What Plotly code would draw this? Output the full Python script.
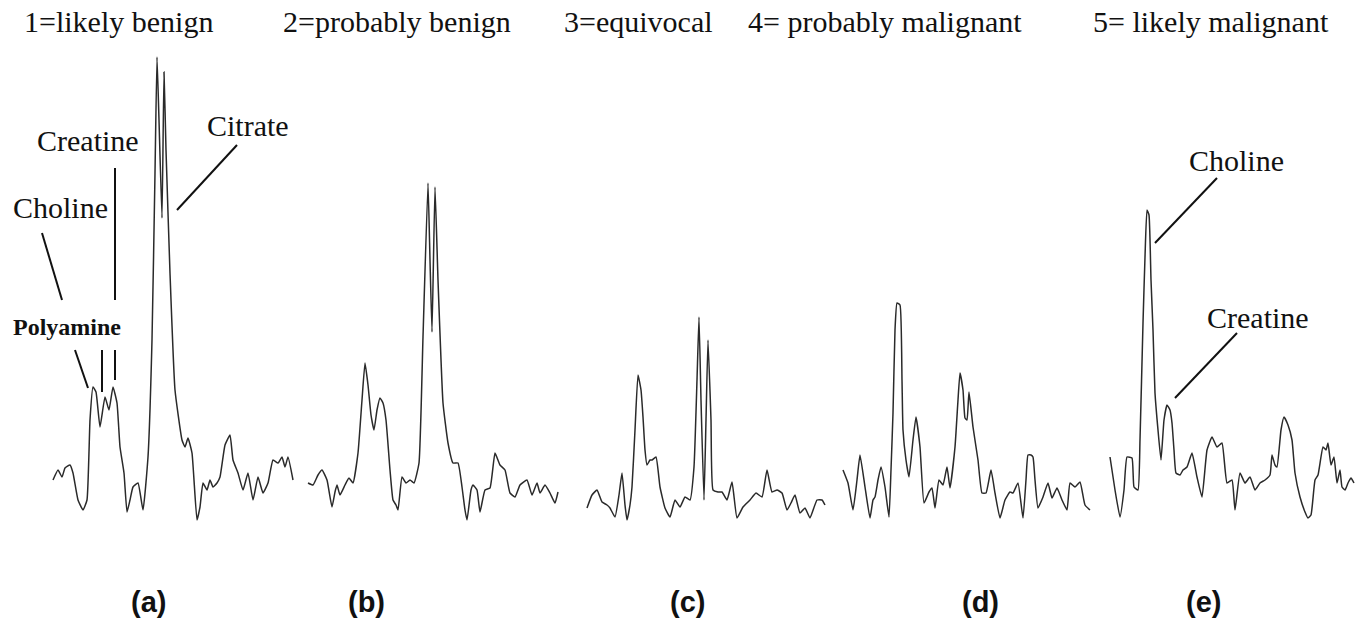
import plotly.graph_objects as go

# ---- spectra: chemical-shift position (arbitrary units) and signal intensity ----
a_pos = [53, 58, 62, 65, 70, 73, 78, 83, 87, 90, 93, 96, 100, 105, 109, 113, 117, 120,
         124, 127, 130, 133, 138, 143, 148, 152, 155, 157, 159, 162, 164, 166, 170, 175,
         182, 185, 188, 192, 197, 200, 203, 207, 210, 213, 217, 220, 225, 230, 233, 238,
         243, 248, 253, 258, 263, 268, 273, 278, 282, 285, 288, 293]
a_int = [120, 130, 123, 132, 135, 127, 100, 90, 100, 180, 213, 208, 173, 203, 190, 213, 197, 153,
         127, 88, 100, 113, 117, 90, 143, 260, 427, 543, 480, 382, 528, 450, 327, 210,
         160, 153, 162, 147, 80, 93, 117, 110, 120, 113, 117, 123, 155, 165, 140, 127,
         110, 127, 100, 123, 107, 117, 140, 137, 143, 133, 143, 120]

b_pos = [308, 313, 318, 322, 327, 332, 335, 337, 340, 345, 349, 353, 358, 362, 365, 368, 371, 374,
         377, 380, 383, 386, 390, 393, 396, 398, 402, 406, 410, 414, 419, 423, 428, 430, 432, 435,
         438, 443, 448, 453, 458, 462, 465, 467, 471, 473, 477, 480, 485, 490, 495, 500, 505, 510,
         515, 520, 527, 532, 537, 540, 545, 550, 555, 558]
b_int = [117, 115, 125, 130, 120, 93, 108, 115, 105, 115, 122, 117, 147, 200, 237, 215, 185, 170,
         190, 202, 197, 180, 130, 100, 95, 90, 123, 117, 120, 117, 137, 263, 417, 340, 268, 413,
         320, 197, 157, 137, 137, 113, 90, 80, 110, 115, 110, 88, 110, 112, 147, 135, 130, 107,
         103, 115, 120, 105, 117, 107, 115, 107, 97, 108]

c_pos = [587, 592, 597, 602, 607, 610, 615, 619, 622, 625, 627, 630, 632, 635, 638, 641, 643, 645,
         647, 650, 652, 656, 660, 665, 670, 675, 680, 685, 690, 694, 697, 699, 701, 704, 706, 708,
         711, 713, 718, 722, 727, 732, 737, 743, 750, 756, 762, 767, 772, 777, 782, 787, 791, 795,
         800, 805, 810, 817, 822, 825]
c_int = [92, 105, 110, 98, 95, 92, 83, 105, 127, 95, 80, 95, 113, 170, 225, 210, 183, 150,
         135, 140, 140, 143, 113, 92, 83, 100, 93, 103, 100, 133, 220, 283, 200, 100, 180, 260,
         180, 110, 108, 108, 100, 118, 82, 93, 100, 107, 103, 130, 108, 110, 107, 90, 97, 105,
         87, 92, 82, 100, 100, 95]

d_pos = [843, 848, 853, 857, 860, 865, 870, 873, 875, 878, 881, 885, 889, 891, 893, 895, 897, 900,
         902, 903, 906, 909, 913, 916, 920, 924, 929, 932, 935, 939, 943, 947, 950, 955, 958, 960,
         963, 965, 967, 969, 973, 978, 982, 986, 991, 995, 1000, 1005, 1010, 1013, 1018, 1023, 1026, 1028,
         1031, 1033, 1035, 1038, 1043, 1048, 1052, 1057, 1062, 1067, 1070, 1075, 1080, 1085, 1090]
d_int = [130, 117, 90, 120, 145, 113, 82, 100, 103, 120, 133, 113, 83, 130, 187, 270, 297, 295,
         220, 170, 140, 123, 160, 183, 153, 97, 108, 112, 92, 120, 115, 133, 112, 153, 200, 227,
         210, 182, 180, 208, 173, 140, 107, 107, 130, 107, 82, 100, 108, 107, 117, 82, 120, 145,
         145, 143, 120, 92, 103, 117, 102, 112, 100, 90, 117, 113, 118, 95, 90]

e_pos = [1110, 1115, 1120, 1124, 1127, 1132, 1134, 1138, 1140, 1143, 1145, 1147, 1149, 1151, 1153, 1155,
         1158, 1161, 1164, 1167, 1170, 1172, 1174, 1176, 1180, 1183, 1187, 1192, 1197, 1202, 1207, 1212,
         1217, 1222, 1227, 1232, 1235, 1240, 1245, 1250, 1255, 1260, 1265, 1270, 1272, 1275, 1277, 1281,
         1284, 1288, 1292, 1295, 1300, 1305, 1308, 1311, 1315, 1318, 1323, 1326, 1328, 1331, 1334, 1337,
         1340, 1342, 1345, 1348, 1351, 1354]
e_int = [143, 110, 83, 110, 143, 142, 113, 110, 160, 277, 343, 390, 385, 320, 270, 207,
         170, 140, 180, 195, 190, 177, 150, 127, 125, 130, 133, 147, 123, 103, 150, 163,
         153, 157, 117, 120, 90, 127, 117, 123, 110, 117, 120, 125, 145, 135, 133, 170,
         183, 175, 160, 127, 103, 88, 82, 85, 120, 125, 153, 150, 157, 135, 143, 117,
         130, 113, 110, 117, 122, 117]

scores = ["1=likely benign", "2=probably benign", "3=equivocal",
          "4= probably malignant", "5= likely malignant"]
panels = ["(a)", "(b)", "(c)", "(d)", "(e)"]

SPEC_COLOR = "#2a2a2a"
SERIF = "Liberation Serif, Times New Roman, serif"
SANS = "Liberation Sans, Arial, sans-serif"

fig = go.Figure()
for xs, ys in [(a_pos, a_int), (b_pos, b_int), (c_pos, c_int), (d_pos, d_int), (e_pos, e_int)]:
    fig.add_trace(go.Scatter(x=xs, y=ys, mode="lines",
                             line=dict(color=SPEC_COLOR, width=1.5, shape="spline", smoothing=0.4),
                             hoverinfo="skip", showlegend=False))

# score headings along the top
score_x = [118, 397, 638, 885, 1211]
for sx, txt in zip(score_x, scores):
    fig.add_annotation(x=sx, y=579, text=txt, showarrow=False,
                       font=dict(family=SERIF, size=30, color="#111"))

# panel letters along the bottom
panel_x = [148, 366, 687, 980, 1203]
for px, txt in zip(panel_x, panels):
    fig.add_annotation(x=px, y=-2, text="<b>%s</b>" % txt, showarrow=False,
                       font=dict(family=SANS, size=29, color="#111"))

# metabolite labels
labels = [
    ("Citrate", 248, 475),
    ("Creatine", 88, 460),
    ("Choline", 60, 393),
    ("Choline", 1236, 440),
    ("Creatine", 1258, 283),
]
for txt, lx, ly in labels:
    fig.add_annotation(x=lx, y=ly, text=txt, showarrow=False,
                       font=dict(family=SERIF, size=30, color="#111"))
fig.add_annotation(x=67, y=273, text="<b>Polyamine</b>", showarrow=False,
                   font=dict(family=SERIF, size=24, color="#111"))

# leader lines from labels to peaks
leaders = [
    (237, 455, 177, 390),
    (115, 432, 115, 300),
    (42, 367, 62, 300),
    (75, 250, 88, 212),
    (102, 250, 102, 208),
    (115, 250, 115, 220),
    (1217, 422, 1155, 357),
    (1237, 267, 1175, 202),
]
for x0, y0, x1, y1 in leaders:
    fig.add_shape(type="line", x0=x0, y0=y0, x1=x1, y1=y1, xref="x", yref="y",
                  line=dict(color="#111", width=2))

fig.update_layout(
    width=1358, height=622,
    margin=dict(l=0, r=0, t=0, b=0),
    paper_bgcolor="white", plot_bgcolor="white",
    xaxis=dict(range=[0, 1358], visible=False, fixedrange=True),
    yaxis=dict(range=[-22, 600], visible=False, fixedrange=True),
)

fig.write_html("out.html")
